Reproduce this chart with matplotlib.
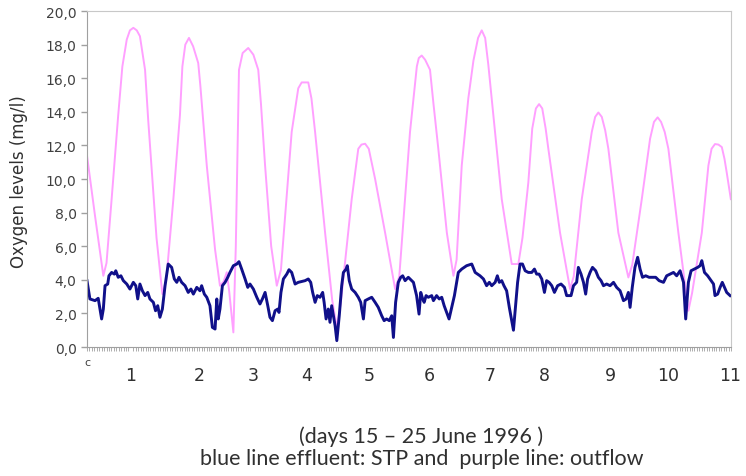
import numpy as np
import matplotlib
matplotlib.use("Agg")
import matplotlib.pyplot as plt
from matplotlib.ticker import MultipleLocator

# hours since start of 15 June 1996, oxygen in mg/l
# outflow (purple line), read as (hour, value)
purple = [(0, 11.4), (3.3, 7.8), (6.7, 4.24), (8, 5.0), (10.1, 8.8), (12.8, 13.8),
          (14.5, 16.7), (16.3, 18.3), (17.6, 18.85), (19, 19.0), (20.4, 18.85),
          (21.7, 18.5), (23.8, 16.5), (25.1, 13.5), (28.5, 6.5), (30.9, 3.15),
          (32.5, 4.0), (35.4, 8.8), (38.1, 13.8), (39.1, 16.7), (40.3, 18.0),
          (41.8, 18.4), (43.5, 17.9), (45.6, 16.9), (46.5, 15.5), (49.1, 10.8),
          (52.5, 5.8), (54.5, 3.65), (56, 3.9), (57.3, 4.45), (58.3, 3.3), (60.0, 0.87),
          (61, 6.0), (62.3, 16.5), (63.8, 17.5), (66.1, 17.8), (68.2, 17.4),
          (70.2, 16.5), (71.3, 14.5), (73.0, 10.8), (75.5, 6.0), (77.8, 3.65),
          (79.5, 4.6), (83.9, 12.8), (86.6, 15.4), (88, 15.75), (90.7, 15.75),
          (92, 14.8), (93.5, 12.8), (97.6, 6.8), (100.5, 2.8), (102.4, 1.17),
          (104, 2.6), (108.5, 8.8), (111.2, 11.8), (112.5, 12.05), (114, 12.1),
          (115.5, 11.8), (118.1, 10.0), (122.2, 6.8), (126.3, 3.45), (128, 4.2),
          (132.4, 12.8), (135.2, 16.7), (136, 17.2), (137.2, 17.35), (138.6, 17.1),
          (140.6, 16.5), (142, 14.5), (144.0, 11.8), (147.5, 6.8), (150.2, 4.24),
          (151.5, 5.2), (153.6, 10.8), (156.3, 14.8), (158.4, 17.05), (160.3, 18.4),
          (161.8, 18.85), (163.2, 18.4), (164.5, 16.8), (165.9, 14.76), (170.0, 8.8),
          (174.1, 4.94), (176.8, 4.94), (178.5, 6.5), (180.9, 9.8), (182.5, 13.0),
          (184, 14.2), (185.3, 14.46), (186.6, 14.2), (188, 13.0), (189.1, 11.8),
          (193.9, 6.8), (198.0, 3.45), (199.5, 4.2), (202.8, 8.8), (206.9, 12.8),
          (208.3, 13.7), (209.6, 13.96), (211, 13.7), (212.4, 12.9), (213.7, 11.8),
          (217.8, 6.8), (221.9, 4.14), (223.5, 4.9), (227.4, 8.8), (230.8, 12.4),
          (232.4, 13.4), (233.9, 13.67), (235.3, 13.4), (236.8, 12.8), (238.3, 11.8),
          (242.4, 6.8), (246.5, 2.16), (248, 3.2), (252.0, 6.8), (254.7, 10.8),
          (256, 11.8), (257.4, 12.08), (258.8, 12.05), (260.2, 11.9), (261.3, 11.2),
          (262.2, 10.4), (263.9, 8.8)]

# effluent STP (blue line)
blue = [(0, 3.95), (1.2, 2.86), (3.3, 2.76), (4.6, 2.9), (6.0, 1.67), (6.7, 2.26),
        (7.4, 3.65), (8.5, 3.75), (9.0, 4.24), (10.1, 4.44), (11.2, 4.34), (11.8, 4.54),
        (12.8, 4.15), (13.9, 4.24), (14.9, 3.95), (16.3, 3.75), (17.6, 3.45),
        (19.0, 3.85), (20.0, 3.65), (20.8, 2.86), (21.7, 3.75), (22.7, 3.35),
        (23.8, 3.06), (24.9, 3.25), (25.8, 2.86), (27.2, 2.66), (28.1, 2.16),
        (29.0, 2.46), (29.9, 1.77), (30.9, 2.26), (32.0, 3.65), (33.3, 4.94),
        (34.7, 4.74), (35.8, 4.05), (36.8, 3.85), (37.7, 4.15), (38.8, 3.85),
        (40.2, 3.65), (41.5, 3.25), (42.6, 3.45), (43.6, 3.15), (45.0, 3.55),
        (46.3, 3.35), (47.0, 3.65), (48.1, 3.15), (49.1, 2.96), (50.4, 2.46),
        (51.4, 1.17), (52.5, 1.07), (53.2, 2.86), (53.8, 1.67), (54.5, 2.26),
        (55.5, 3.65), (56.6, 3.85), (57.7, 4.15), (58.6, 4.44), (60.0, 4.84),
        (61.4, 4.94), (62.3, 5.08), (63.4, 4.64), (64.8, 4.05), (65.9, 3.55),
        (66.8, 3.75), (68.2, 3.45), (69.6, 2.96), (70.9, 2.56), (71.9, 2.86),
        (73.0, 3.25), (74.1, 2.46), (75.0, 1.77), (76.0, 1.57), (77.1, 2.16),
        (78.2, 2.26), (78.7, 2.06), (79.5, 3.25), (80.5, 4.05), (81.9, 4.34),
        (82.8, 4.6), (83.9, 4.44), (85.3, 3.75), (86.6, 3.85), (88.0, 3.9),
        (89.4, 3.95), (90.7, 4.05), (91.7, 3.85), (92.5, 3.25), (93.5, 2.66),
        (94.4, 3.06), (95.5, 2.96), (96.6, 3.25), (97.2, 2.66), (98.0, 1.67),
        (98.9, 2.26), (99.6, 1.47), (100.3, 2.46), (101.0, 1.86), (101.7, 1.27),
        (102.4, 0.38), (103.4, 1.86), (104.4, 3.65), (105.1, 4.44), (106.2, 4.64),
        (106.7, 4.84), (107.5, 3.95), (108.5, 3.45), (109.9, 3.25), (111.2, 2.96),
        (112.2, 2.66), (113.3, 1.67), (114.0, 2.76), (115.3, 2.86), (116.7, 2.96),
        (118.1, 2.66), (119.4, 2.36), (120.8, 1.86), (121.8, 1.57), (122.8, 1.67),
        (123.9, 1.57), (124.9, 1.86), (125.6, 0.57), (126.5, 2.66), (127.6, 3.85),
        (128.6, 4.15), (129.4, 4.24), (130.4, 3.95), (131.7, 4.15), (133.8, 3.85),
        (135.1, 3.06), (136.1, 1.96), (136.8, 3.25), (137.6, 2.86), (138.2, 2.66),
        (139.0, 3.06), (139.9, 2.96), (141.3, 3.06), (142.0, 2.76), (143.3, 3.06),
        (144.4, 2.86), (145.4, 2.96), (146.4, 2.46), (147.4, 2.06), (148.4, 1.67),
        (149.5, 2.36), (150.6, 3.06), (152.2, 4.44), (153.6, 4.64), (155.6, 4.84),
        (157.7, 4.94), (159.1, 4.44), (161.1, 4.24), (162.5, 4.05), (163.8, 3.65),
        (164.9, 3.85), (165.9, 3.65), (167.3, 3.85), (168.2, 4.24), (169.0, 3.85),
        (170.0, 3.95), (170.9, 3.65), (172.0, 3.35), (173.1, 2.36), (174.8, 1.0),
        (176.5, 3.85), (177.5, 4.94), (178.5, 4.94), (179.6, 4.54), (180.9, 4.44),
        (182.3, 4.44), (183.4, 4.64), (184.3, 4.34), (185.3, 4.34), (186.4, 4.05),
        (187.5, 3.25), (188.4, 3.95), (189.4, 3.85), (190.5, 3.65), (191.6, 3.25),
        (192.9, 3.65), (194.3, 3.75), (195.7, 3.55), (196.6, 3.06), (198.4, 3.06),
        (199.4, 3.65), (200.7, 3.85), (201.4, 4.74), (202.5, 4.34), (203.5, 3.85),
        (204.4, 3.15), (205.2, 4.05), (206.2, 4.44), (207.2, 4.74), (208.5, 4.54),
        (209.6, 4.15), (210.7, 3.95), (211.7, 3.65), (213.0, 3.75), (214.4, 3.65),
        (215.8, 3.85), (217.1, 3.55), (218.5, 3.35), (219.9, 2.76), (221.0, 2.86),
        (221.9, 3.25), (222.6, 2.36), (223.5, 3.55), (224.6, 4.74), (225.7, 5.34),
        (226.7, 4.64), (227.7, 4.15), (229.0, 4.24), (230.4, 4.15), (231.8, 4.15),
        (233.1, 4.15), (234.5, 3.95), (236.3, 3.85), (237.6, 4.24), (239.0, 4.34),
        (240.4, 4.44), (241.7, 4.24), (243.1, 4.54), (244.5, 3.85), (245.4, 1.67),
        (246.5, 3.85), (247.6, 4.54), (249.0, 4.64), (250.3, 4.74), (251.3, 4.84),
        (252.0, 5.14), (253.1, 4.44), (254.4, 4.24), (255.8, 3.95), (256.8, 3.75),
        (257.4, 3.06), (258.5, 3.15), (259.5, 3.55), (260.4, 3.85), (261.3, 3.55),
        (262.2, 3.25), (263.6, 3.06)]

purple_hours, purple_vals = zip(*purple)
blue_hours, blue_vals = zip(*blue)

day_pos = [18.0, 45.9, 68.0, 90.2, 115.6, 140.2, 165.2, 187.5, 214.5, 238.2, 263.6]
day_labels = ["1", "2", "3", "4", "5", "6", "7", "8", "9", "10", "11"]
y_ticks = np.arange(0, 21, 2)

fig = plt.figure(figsize=(7.46, 4.77), dpi=100)
ax = fig.add_axes([0.1166, 0.2704, 0.8634, 0.7044])

ax.plot(purple_hours, purple_vals, color="#ffa0ff", lw=1.4)
ax.plot(blue_hours, blue_vals, color="#10108a", lw=2.1)

ax.set_xlim(0, 264)
ax.set_ylim(0, 20)

ax.set_yticks(y_ticks)
ax.yaxis.set_major_formatter(plt.FuncFormatter(lambda v, p: ("%.1f" % v).replace(".", ",")))
ax.tick_params(axis="y", labelsize=10, labelcolor="#404040", color="#a0a0a0",
               length=4, width=1)

ax.set_xticks(day_pos)
ax.set_xticklabels(day_labels)
ax.tick_params(axis="x", which="major", length=0, pad=14, labelsize=12.5,
               labelcolor="#303030")
ax.xaxis.set_minor_locator(MultipleLocator(1))
ax.tick_params(axis="x", which="minor", length=3, width=0.6, color="#a0a0a0")
ax.text(0, -0.9, "c", fontsize=8, color="#404040", ha="center", va="center")

for side in ["top", "right"]:
    ax.spines[side].set_color("#c8c8c8")
ax.spines["left"].set_color("#a0a0a0")
ax.spines["bottom"].set_color("#a0a0a0")

fig.text(0.026, 0.62, "Oxygen levels (mg/l)", rotation=90, ha="center", va="center",
         fontsize=12, color="#303030")
fig.text(0.564, 0.084, "(days 15 \u2013 25 June 1996 )", ha="center", va="center",
         fontsize=15.5, family="Lato", color="#303030")
fig.text(0.566, 0.038, "blue line effluent: STP and  purple line: outflow", ha="center",
         va="center", fontsize=15.5, family="Lato", color="#303030")

fig.savefig("out.png", dpi=100)
